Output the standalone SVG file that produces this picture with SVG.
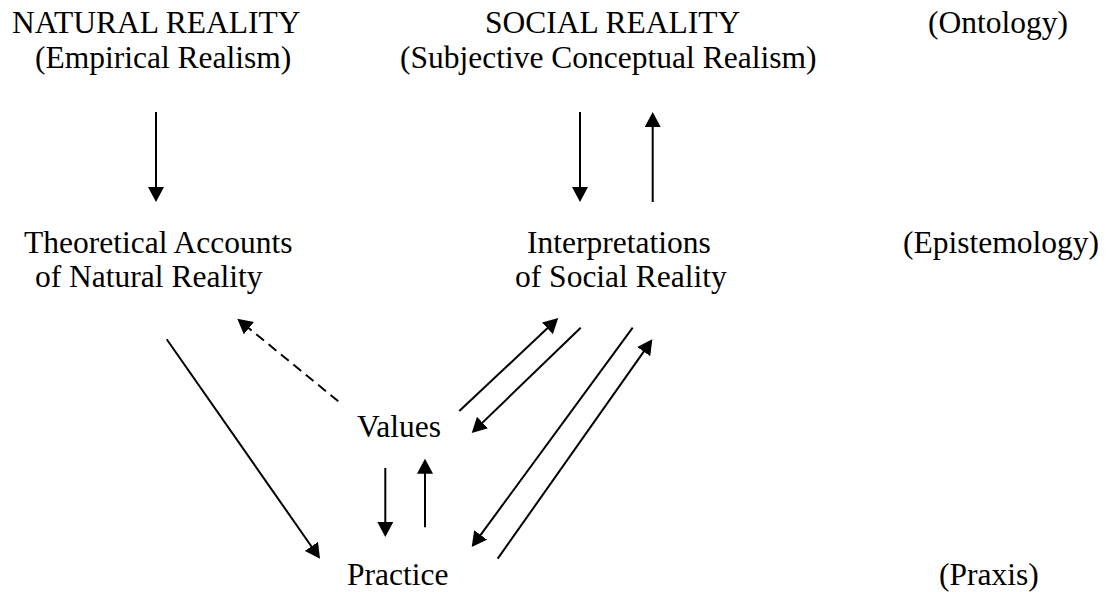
<svg xmlns="http://www.w3.org/2000/svg" width="1109" height="592" viewBox="0 0 1109 592">
<style>
text{font-family:"Liberation Serif","Times New Roman",serif;font-size:31.5px;fill:#000}
.c{stroke:#000;stroke-width:2;fill:none;marker-end:url(#ah)}
.d{stroke-dasharray:10 6}
</style>
<defs>
<marker id="ah" markerUnits="userSpaceOnUse" markerWidth="15" markerHeight="16" refX="12" refY="8" orient="auto" viewBox="0 0 15 16">
<path d="M0,0 L15,8 L0,16 z" fill="#000"/>
</marker>
</defs>
<rect width="1109" height="592" fill="#fff"/>
<g id="natural-reality"><text x="12" y="33">NATURAL REALITY</text><text x="35" y="68">(Empirical Realism)</text></g>
<g id="social-reality"><text x="485" y="33">SOCIAL REALITY</text><text x="400" y="68">(Subjective Conceptual Realism)</text></g>
<g id="ontology"><text x="928" y="33">(Ontology)</text></g>
<g id="theoretical-accounts"><text x="24" y="253">Theoretical Accounts</text><text x="35" y="287">of Natural Reality</text></g>
<g id="interpretations"><text x="527" y="253">Interpretations</text><text x="515" y="287">of Social Reality</text></g>
<g id="epistemology"><text x="903" y="253">(Epistemology)</text></g>
<g id="values"><text x="357" y="437">Values</text></g>
<g id="practice"><text x="347" y="585">Practice</text></g>
<g id="praxis"><text x="939" y="585">(Praxis)</text></g>
<g id="connectors">
<line class="c" x1="156" y1="112" x2="156" y2="199"/>
<line class="c" x1="580" y1="112" x2="580" y2="199"/>
<line class="c" x1="652.7" y1="202" x2="652.7" y2="115"/>
<line class="c" x1="166.7" y1="339.3" x2="318.3" y2="556.2"/>
<line class="c d" x1="338.3" y1="401.3" x2="239.6" y2="320.6"/>
<line class="c" x1="385.3" y1="468" x2="385.3" y2="534"/>
<line class="c" x1="425" y1="527.3" x2="425" y2="461.7"/>
<line class="c" x1="459.3" y1="411" x2="556.1" y2="320.1"/>
<line class="c" x1="580.7" y1="327.7" x2="473.9" y2="430.9"/>
<line class="c" x1="632.7" y1="327.7" x2="473.5" y2="544.6"/>
<line class="c" x1="497.7" y1="558.7" x2="650.6" y2="341.8"/>
</g>
</svg>
